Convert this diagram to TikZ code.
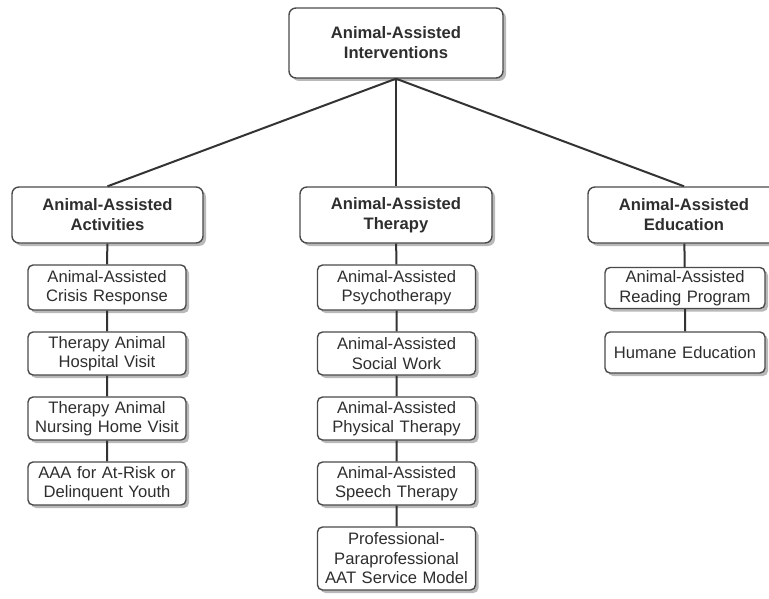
\documentclass[tikz,border=0pt]{standalone}
\usepackage{fontspec}
\setmainfont{Liberation Sans}
\usetikzlibrary{shadows}
\definecolor{boxline}{HTML}{4A4A4A}
\definecolor{txt}{HTML}{2E2E2E}
\definecolor{wire}{HTML}{333333}
\tikzset{
  box/.style={draw=boxline, line width=1.4pt, fill=white, text=txt,
    align=center, inner xsep=0pt, inner ysep=0pt,
    drop shadow={shadow xshift=3pt, shadow yshift=-3pt, fill=black!55},
    font=\fontsize{16.6}{19.5}\selectfont},
  headbox/.style={box, rounded corners=7pt, font=\fontsize{16.6}{20}\selectfont\bfseries,
    text width=#1pt, minimum width=#1pt, minimum height=56pt},
  subbox/.style={box, rounded corners=5pt, text width=#1pt, minimum width=#1pt},
  wire/.style={draw=wire, line width=2pt}
}
\begin{document}
\begin{tikzpicture}[x=1pt,y=-1pt]
\useasboundingbox (0,0) rectangle (769,599);
\clip (0,0) rectangle (769,599);

% root
\node[headbox=214, minimum height=70pt] (root) at (396,43) {Animal-Assisted\\Interventions};

% branch heads
\node[headbox=191] (aaa) at (107.5,215) {Animal-Assisted\\Activities};
\node[headbox=192] (aat) at (396,215) {Animal-Assisted\\Therapy};
\node[headbox=192] (aae) at (684,215) {Animal-Assisted\\Education};

% activities
\node[subbox=158, minimum height=45pt] (a1) at (107,287.5) {Animal-Assisted\\Crisis Response};
\node[subbox=158, minimum height=43pt] (a2) at (107,353.5) {Therapy Animal\\Hospital Visit};
\node[subbox=158, minimum height=43pt] (a3) at (107,418.5) {Therapy Animal\\Nursing Home Visit};
\node[subbox=158, minimum height=43pt] (a4) at (107,483.5) {AAA for At-Risk or\\Delinquent Youth};

% therapy
\node[subbox=158, minimum height=45pt] (t1) at (396.5,287.5) {Animal-Assisted\\Psychotherapy};
\node[subbox=158, minimum height=43pt] (t2) at (396.5,353.5) {Animal-Assisted\\Social Work};
\node[subbox=158, minimum height=43pt] (t3) at (396.5,418.5) {Animal-Assisted\\Physical Therapy};
\node[subbox=158, minimum height=43pt] (t4) at (396.5,483.5) {Animal-Assisted\\Speech Therapy};
\node[subbox=158, minimum height=63pt] (t5) at (396.5,558.5) {Professional-\\Paraprofessional\\AAT Service Model};

% education
\node[subbox=160, minimum height=41pt] (e1) at (685,288) {Animal-Assisted\\Reading Program};
\node[subbox=160, minimum height=41pt] (e2) at (685,352.5) {Humane Education};

% connectors
\draw[wire] (root.south) -- (aaa.north);
\draw[wire] (root.south) -- (aat.north);
\draw[wire] (root.south) -- (aae.north);
\draw[wire] (aaa) -- (a1) (a1) -- (a2) (a2) -- (a3) (a3) -- (a4);
\draw[wire] (aat) -- (t1) (t1) -- (t2) (t2) -- (t3) (t3) -- (t4) (t4) -- (t5);
\draw[wire] (aae) -- (e1) (e1) -- (e2);
\end{tikzpicture}
\end{document}
